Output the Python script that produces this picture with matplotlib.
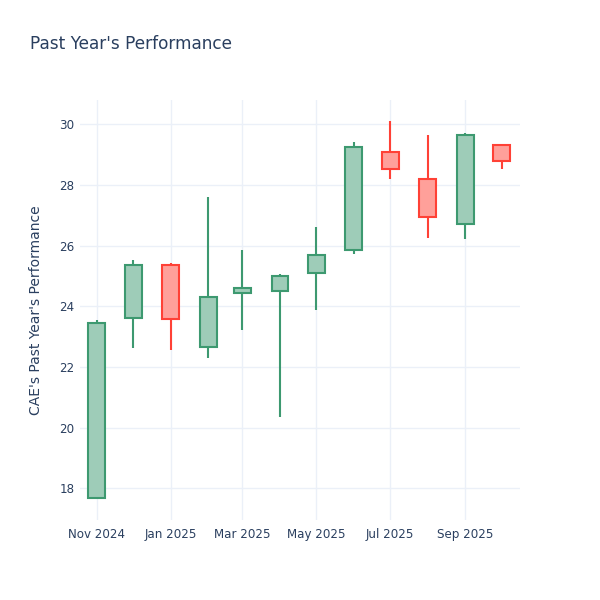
import datetime as dt
import matplotlib
matplotlib.use("Agg")
import matplotlib.pyplot as plt
import matplotlib.dates as mdates

# monthly OHLC
months = ["2024-11-01", "2024-12-01", "2025-01-01", "2025-02-01", "2025-03-01", "2025-04-01",
          "2025-05-01", "2025-06-01", "2025-07-01", "2025-08-01", "2025-09-01", "2025-10-01"]
opens = [17.69, 23.60, 25.37, 22.67, 24.45, 24.51, 25.08, 25.86, 29.10, 28.18, 26.70, 29.33]
highs = [23.53, 25.52, 25.43, 27.59, 25.84, 25.07, 26.62, 29.40, 30.11, 29.66, 29.71, 29.33]
lows = [17.67, 22.62, 22.54, 22.29, 23.20, 20.36, 23.88, 25.73, 28.20, 26.24, 26.20, 28.51]
closes = [23.46, 25.37, 23.59, 24.29, 24.59, 25.01, 25.69, 29.25, 28.52, 26.93, 29.63, 28.79]

up_line = "#3D9970"
up_fill = "#9ECCB8"
down_line = "#FF4136"
down_fill = "#FFA09A"
text_col = "#2a3f5f"
grid_col = "#EBF0F8"

dates = [dt.datetime.strptime(m, "%Y-%m-%d") for m in months]
xs = mdates.date2num(dates)

fig = plt.figure(figsize=(6, 6), dpi=100)
ax = fig.add_axes([80 / 600, 80 / 600, 440 / 600, 420 / 600])

for x, o, h, l, c in zip(xs, opens, highs, lows, closes):
    if c >= o:
        lc, fc = up_line, up_fill
    else:
        lc, fc = down_line, down_fill
    lo_body, hi_body = min(o, c), max(o, c)
    ax.vlines(x, hi_body, h, color=lc, linewidth=1.5, zorder=2)
    ax.vlines(x, l, lo_body, color=lc, linewidth=1.5, zorder=2)
    ax.bar(x, hi_body - lo_body, bottom=lo_body, width=14, color=fc,
           edgecolor=lc, linewidth=1.5, zorder=3)

ax.set_xlim(mdates.date2num(dt.datetime(2024, 10, 18)), mdates.date2num(dt.datetime(2025, 10, 16)))
ax.set_ylim(16.95, 30.8)
ax.set_yticks([18, 20, 22, 24, 26, 28, 30])

ax.xaxis.set_major_locator(mdates.MonthLocator(bymonth=[1, 3, 5, 7, 9, 11]))
ax.xaxis.set_major_formatter(mdates.DateFormatter("%b %Y"))

ax.grid(True, color=grid_col, linewidth=1, zorder=0)
ax.set_axisbelow(True)
for s in ax.spines.values():
    s.set_visible(False)
ax.tick_params(axis="both", length=0, labelsize=8.6, labelcolor=text_col)
ax.tick_params(axis="x", pad=6)
ax.tick_params(axis="y", pad=4)

ax.set_ylabel("CAE's Past Year's Performance", fontsize=10, color=text_col, labelpad=12)
fig.text(30 / 600, 1 - 44 / 600, "Past Year's Performance", fontsize=12.2, color=text_col,
         va="center", ha="left")

fig.savefig("out.png", dpi=100, facecolor="white")
